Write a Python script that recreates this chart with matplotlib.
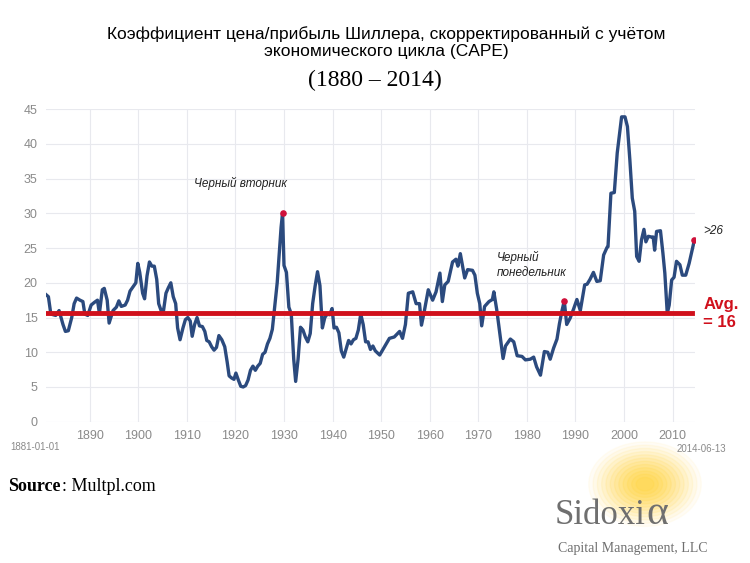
#!/usr/bin/env python3
"""Shiller CAPE 1881-2014 chart, Russian labels."""

import matplotlib.pyplot as plt
import numpy as np
from matplotlib.patches import Circle

YEARS = [
    1881.0, 1881.5, 1882.0, 1883.0, 1883.7, 1884.5, 1885.0, 1885.6, 1886.3, 1886.8,
    1887.3, 1888.0, 1888.6, 1889.0, 1889.6, 1890.3, 1891.0, 1891.6, 1892.0, 1892.6,
    1893.0, 1893.6, 1894.0, 1894.8, 1895.5, 1896.0, 1896.5, 1897.3, 1897.8, 1898.3,
    1899.0, 1899.5, 1899.9, 1900.3, 1900.9, 1901.3, 1901.8, 1902.3, 1902.8, 1903.3,
    1903.8, 1904.2, 1904.7, 1905.2, 1905.7, 1906.2, 1906.7, 1907.2, 1907.7, 1908.1,
    1908.6, 1909.2, 1909.7, 1910.2, 1910.7, 1911.1, 1911.6, 1912.1, 1912.6, 1913.2,
    1913.7, 1914.1, 1914.6, 1915.1, 1915.6, 1916.1, 1916.6, 1917.2, 1917.8, 1918.3,
    1918.7, 1919.2, 1919.7, 1920.1, 1920.6, 1921.1, 1921.6, 1922.1, 1922.6, 1923.1,
    1923.6, 1924.1, 1924.6, 1925.1, 1925.6, 1926.1, 1926.6, 1927.1, 1927.6, 1928.0,
    1928.6, 1929.0, 1929.4, 1929.7, 1930.0, 1930.5, 1931.0, 1931.5, 1932.0, 1932.4,
    1932.9, 1933.4, 1933.9, 1934.4, 1934.9, 1935.4, 1935.9, 1936.4, 1936.9, 1937.4,
    1937.9, 1938.4, 1938.9, 1939.4, 1939.9, 1940.3, 1940.8, 1941.3, 1941.8, 1942.3,
    1942.8, 1943.3, 1943.8, 1944.3, 1944.8, 1945.3, 1945.8, 1946.3, 1946.8, 1947.3,
    1947.8, 1948.3, 1948.8, 1949.7, 1950.7, 1951.7, 1952.7, 1953.8, 1954.4, 1955.0,
    1955.6, 1956.5, 1957.2, 1957.9, 1958.3, 1958.8, 1959.7, 1960.6, 1961.3, 1962.1,
    1962.6, 1963.1, 1963.8, 1964.7, 1965.4, 1965.8, 1966.3, 1967.2, 1967.8, 1968.8,
    1969.3, 1969.8, 1970.3, 1970.7, 1971.3, 1972.2, 1972.9, 1973.2, 1973.8, 1974.6,
    1975.1, 1975.6, 1976.6, 1977.3, 1978.0, 1979.0, 1979.7, 1980.7, 1981.4, 1982.0,
    1982.8, 1983.6, 1984.3, 1984.8, 1985.5, 1986.2, 1986.7, 1987.2, 1987.7, 1988.2,
    1988.9, 1989.6, 1990.3, 1991.0, 1991.9, 1992.4, 1993.0, 1993.7, 1994.4, 1995.1,
    1995.8, 1996.5, 1996.7, 1997.3, 1998.0, 1998.6, 1999.5, 2000.2, 2000.7, 2001.2,
    2001.7, 2002.2, 2002.6, 2003.1, 2003.6, 2004.1, 2004.5, 2005.0, 2005.6, 2006.0,
    2006.3, 2006.7, 2007.5, 2008.0, 2008.4, 2008.9, 2009.3, 2009.8, 2010.3, 2010.8,
    2011.5, 2012.0, 2012.7, 2013.4, 2014.5,
]
CAPE = [
    18.3, 18.0, 15.5, 15.3, 16.0, 14.0, 13.0, 13.1, 15.0, 17.0,
    17.8, 17.5, 17.3, 15.5, 15.3, 16.8, 17.2, 17.5, 15.6, 19.0,
    19.2, 17.5, 14.2, 16.0, 16.5, 17.4, 16.6, 16.8, 17.5, 18.8,
    19.5, 20.0, 22.8, 21.5, 18.5, 17.7, 21.0, 23.0, 22.4, 22.4,
    20.5, 17.0, 16.0, 16.0, 18.5, 19.3, 20.0, 18.0, 17.0, 13.5,
    11.8, 13.5, 14.7, 15.0, 14.5, 12.3, 14.0, 15.0, 13.8, 13.7,
    13.0, 11.7, 11.5, 10.8, 10.3, 10.7, 12.4, 11.8, 10.8, 8.6,
    6.6, 6.3, 6.1, 7.0, 6.0, 5.1, 5.0, 5.2, 6.0, 7.4,
    8.0, 7.4, 8.0, 8.4, 9.7, 10.0, 11.2, 12.0, 13.3, 16.0,
    20.0, 24.0, 28.0, 30.0, 22.5, 21.5, 16.5, 15.5, 9.0, 5.8,
    9.0, 13.6, 13.2, 12.2, 11.5, 12.7, 17.0, 19.5, 21.6, 19.6,
    13.5, 15.0, 15.5, 15.4, 16.3, 13.5, 13.6, 12.8, 10.2, 9.3,
    10.5, 11.7, 11.2, 11.8, 12.0, 13.2, 15.5, 14.0, 11.5, 11.5,
    10.4, 10.9, 10.2, 9.6, 10.8, 12.0, 12.2, 13.0, 12.0, 14.0,
    18.5, 18.7, 17.0, 17.0, 13.9, 15.6, 19.0, 17.5, 18.7, 21.4,
    17.3, 19.7, 20.2, 23.0, 23.4, 22.4, 24.2, 20.7, 21.9, 21.8,
    21.1, 18.5, 17.0, 13.8, 16.6, 17.3, 17.6, 18.7, 16.1, 11.8,
    9.1, 10.9, 11.9, 11.5, 9.5, 9.4, 8.9, 9.0, 9.3, 7.9,
    6.7, 10.1, 10.0, 9.0, 10.6, 11.9, 14.1, 15.9, 17.4, 14.0,
    14.9, 16.2, 17.6, 16.0, 19.7, 19.8, 20.5, 21.5, 20.2, 20.3,
    24.0, 25.1, 25.2, 32.9, 33.0, 38.7, 43.9, 43.9, 42.5, 37.7,
    32.2, 30.3, 23.8, 23.1, 26.2, 27.7, 25.9, 26.7, 26.6, 26.6,
    24.7, 27.4, 27.5, 24.3, 21.4, 15.6, 16.8, 20.4, 20.8, 23.1,
    22.6, 21.1, 21.1, 22.8, 26.2,
]
AVERAGE = 15.6
HIGHLIGHT_YEARS = [1929.7, 1987.7, 2014.5]
HIGHLIGHT_VALUES = [30.0, 17.4, 26.2]
X_TICKS = [1890, 1900, 1910, 1920, 1930, 1940, 1950, 1960, 1970, 1980, 1990, 2000, 2010]
Y_TICKS = [0, 5, 10, 15, 20, 25, 30, 35, 40, 45]


def main() -> None:
    plt.rcParams["font.family"] = "Liberation Sans"
    fig = plt.figure(figsize=(7.5, 5.63), dpi=100)
    ax = fig.add_axes([0.0613, 0.251, 0.8653, 0.555])

    ax.plot(YEARS, CAPE, color="#2b4a7e", linewidth=2.4, zorder=3)
    ax.plot([1881.0, 2013.9], [AVERAGE, AVERAGE], color="#d0101c", linewidth=3.5, zorder=4)
    ax.scatter(HIGHLIGHT_YEARS, HIGHLIGHT_VALUES, s=14, color="#d0103a", zorder=5)

    ax.set_xlim(1881.0, 2014.6)
    ax.set_ylim(0, 45)
    ax.set_xticks(X_TICKS)
    ax.set_yticks(Y_TICKS)
    ax.tick_params(length=0, labelsize=9, colors="#8a8a8a", pad=6)
    ax.grid(color="#e8e9ee", linewidth=0.8)
    ax.set_axisbelow(True)
    for sp in ax.spines.values():
        sp.set_visible(False)

    ax.text(1911.5, 33.8, "Черный вторник", fontsize=8.5, style="italic", color="#222")
    ax.text(1973.8, 21.0, "Черный\nпонедельник", fontsize=8.5, style="italic",
            color="#222", linespacing=1.3)
    ax.text(2016.3, 27.0, ">26", fontsize=8.5, style="italic", color="#222")
    ax.text(2016.3, 15.6, "Avg.\n= 16", fontsize=12, fontweight="bold", color="#d0101c",
            va="center", linespacing=1.3)

    fig.text(0.047, 0.206, "1881-01-01", fontsize=7, color="#8a8a8a", ha="center",
             va="center")
    fig.text(0.935, 0.203, "2014-06-13", fontsize=7, color="#8a8a8a", ha="center",
             va="center")

    fig.text(0.515, 0.925, "Коэффициент цена/прибыль Шиллера, скорректированный с учётом\n"
             "экономического цикла (CAPE)", fontsize=12.5, ha="center", va="center",
             linespacing=1.15)
    fig.text(0.5, 0.857, "(1880 – 2014)", fontsize=17, ha="center", va="center",
             family="Liberation Serif")

    fig.text(0.011, 0.135, "Source", fontsize=13, fontweight="bold",
             family="Liberation Serif", va="center")
    fig.text(0.083, 0.135, ": Multpl.com", fontsize=13,
             family="Liberation Serif", va="center")

    # logo glow
    for r, a in zip(np.linspace(0.075, 0.012, 12), np.linspace(0.05, 0.22, 12)):
        fig.patches.append(Circle((0.86, 0.14), r, transform=fig.transFigure,
                                  color="#ffd640", alpha=a, zorder=0))
    fig.text(0.74, 0.07, "Sidoxi", fontsize=25, family="Liberation Serif",
             color="#6f6f6f", va="baseline")
    fig.text(0.862, 0.07, "α", fontsize=30, family="Liberation Serif",
             color="#6f6f6f", va="baseline")
    fig.text(0.744, 0.02, "Capital Management, LLC", fontsize=10,
             family="Liberation Serif", color="#6f6f6f")

    fig.savefig("out.png")


if __name__ == "__main__":
    main()
